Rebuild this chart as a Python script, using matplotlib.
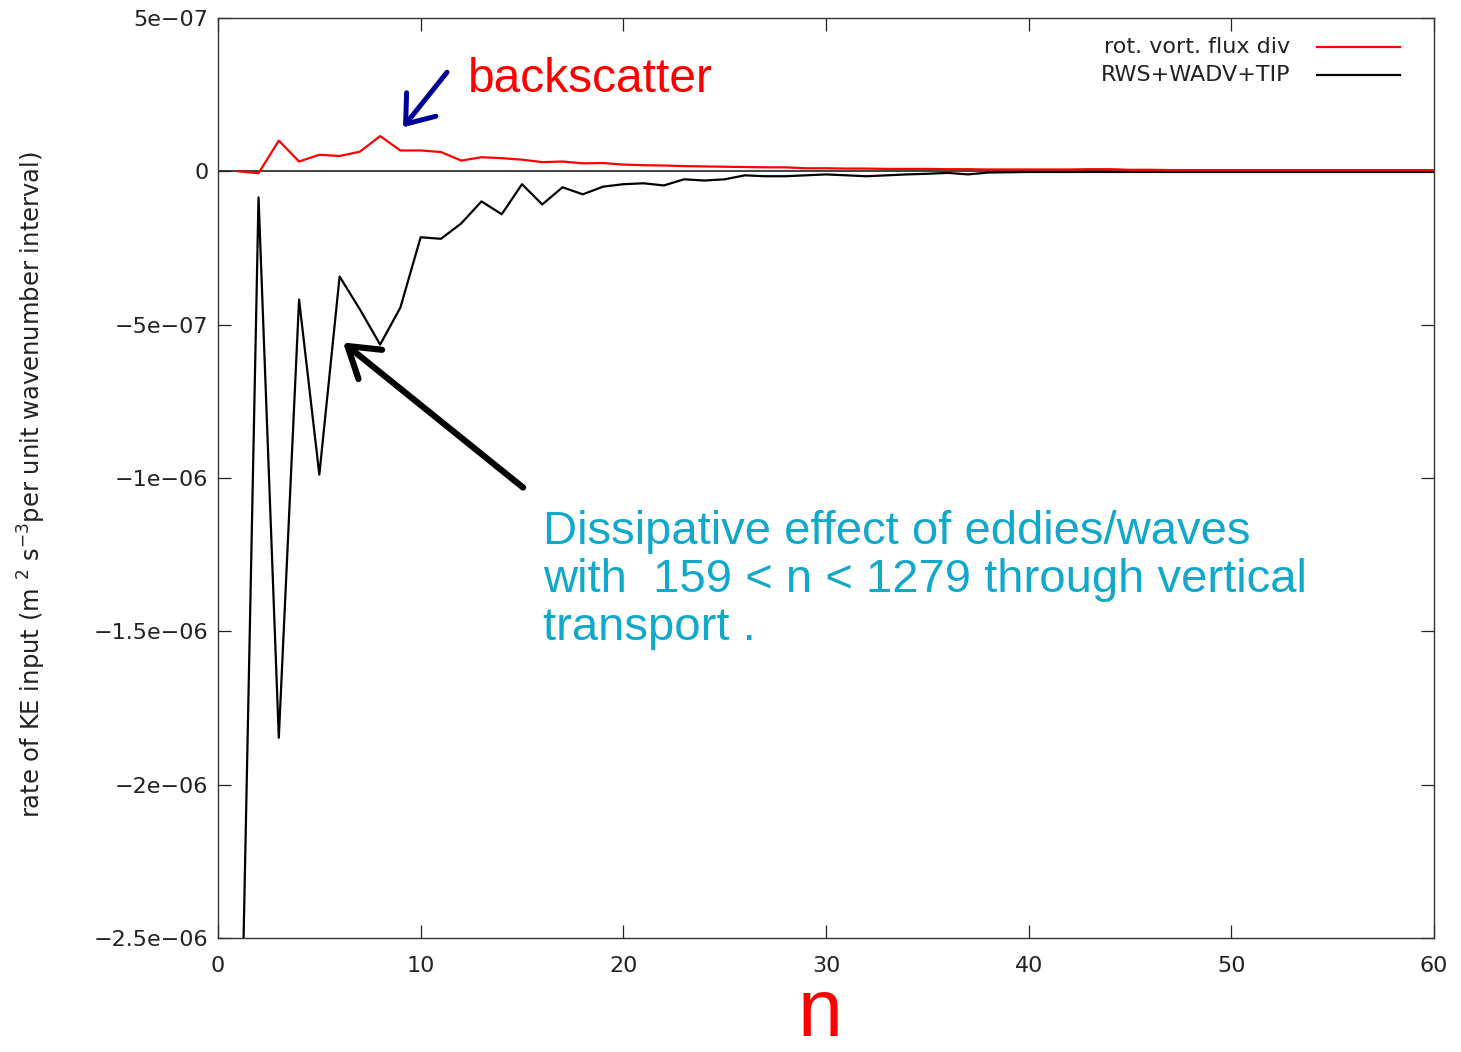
import matplotlib
matplotlib.use("Agg")
import matplotlib.pyplot as plt
import numpy as np

plt.rcParams['font.family'] = ['Liberation Sans', 'DejaVu Sans']

# wavenumber n
n = np.arange(0, 61)

nan = float("nan")
# values in units of 1e-7 m^2 s^-3 per unit wavenumber interval
rot_vort_flux_div = [
    nan, 0.0, -0.06, 1.0, 0.32, 0.54, 0.5, 0.64, 1.15, 0.68,
    0.68, 0.63, 0.35, 0.46, 0.43, 0.38, 0.3, 0.32, 0.26, 0.27,
    0.22, 0.2, 0.19, 0.17, 0.16, 0.15, 0.14, 0.13, 0.13, 0.1,
    0.1, 0.09, 0.09, 0.08, 0.08, 0.08, 0.07, 0.07, 0.06, 0.06,
    0.06, 0.06, 0.06, 0.07, 0.07, 0.05, 0.05, 0.04, 0.04, 0.04,
    0.04, 0.04, 0.04, 0.04, 0.04, 0.04, 0.04, 0.04, 0.04, 0.04,
    0.04,
]
rws_wadv_tip = [
    nan, -33.6, -0.85, -18.47, -4.18, -9.89, -3.43, -4.5, -5.65, -4.44,
    -2.15, -2.2, -1.7, -0.98, -1.4, -0.42, -1.08, -0.52, -0.75, -0.5,
    -0.42, -0.39, -0.46, -0.26, -0.3, -0.26, -0.13, -0.16, -0.16, -0.13,
    -0.1, -0.13, -0.16, -0.13, -0.1, -0.08, -0.05, -0.1, -0.04, -0.03,
    -0.02, -0.02, -0.02, -0.02, -0.02, -0.02, -0.02, -0.02, -0.02, -0.02,
    -0.02, -0.02, -0.02, -0.02, -0.02, -0.02, -0.02, -0.02, -0.02, -0.02,
    -0.02,
]
series_labels = ["rot. vort. flux div", "RWS+WADV+TIP"]
series_colors = ["#ff0000", "#000000"]

x_ticks = [0, 10, 20, 30, 40, 50, 60]
y_ticks = [5e-7, 0, -5e-7, -1e-6, -1.5e-6, -2e-6, -2.5e-6]
y_tick_labels = ["5e\u221207", "0", "\u22125e\u221207", "\u22121e\u221206",
                 "\u22121.5e\u221206", "\u22122e\u221206", "\u22122.5e\u221206"]

scale = 1e-7
W, H = 1461, 1052
fig = plt.figure(figsize=(W / 100, H / 100), dpi=100)
L, R, T, B = 218, 1434, 18, 938
ax = fig.add_axes([L / W, 1 - B / H, (R - L) / W, (B - T) / H])

ax.axhline(0, color="#333333", lw=1.3, zorder=1)
l1, = ax.plot(n, np.array(rot_vort_flux_div) * scale, color=series_colors[0], lw=1.6, zorder=3)
l2, = ax.plot(n, np.array(rws_wadv_tip) * scale, color=series_colors[1], lw=1.6, zorder=2)

ax.set_xlim(0, 60)
ax.set_ylim(-2.5e-6, 5e-7)
ax.set_xticks(x_ticks)
ax.set_xticklabels([str(t) for t in x_ticks])
ax.set_yticks(y_ticks)
ax.set_yticklabels(y_tick_labels)
ax.tick_params(direction="in", length=9.5, width=0.9, top=True, right=True,
               labelsize=16, colors="#222222")
for lab in ax.get_xticklabels() + ax.get_yticklabels():
    lab.set_family("DejaVu Sans")
ax.tick_params(axis="x", pad=13)
ax.tick_params(axis="y", pad=7)
for s in ax.spines.values():
    s.set_color("#333333")
    s.set_linewidth(1.0)

# manual legend (right-aligned text, sample line to the right)
def px2ax(px, py):
    return (px - L) / (R - L), 1 - (py - T) / (B - T)

for i, (line, lab) in enumerate(zip([l1, l2], series_labels)):
    py = 47 + 28 * i
    tx, ty = px2ax(1290, py)
    ax.text(tx, ty, lab, transform=ax.transAxes, ha="right", va="center",
            fontsize=16, color="#222222", family="DejaVu Sans")
    xa, ya = px2ax(1317, py)
    xb, _ = px2ax(1400, py)
    ax.plot([xa, xb], [ya, ya], transform=ax.transAxes, color=line.get_color(), lw=1.6,
            clip_on=False)

ax.set_ylabel("rate of KE input (m $^2$ s$^{-3}$per unit wavenumber interval)",
              fontsize=17.5, color="#222222", family="DejaVu Sans")
ax.yaxis.set_label_coords((48 - L) / (R - L), 1 - (485 - T) / (B - T))

# annotations
ax.annotate("", xy=(6.17, -5.58e-7), xytext=(15.05, -1.031e-6),
            arrowprops=dict(arrowstyle="->,head_length=0.7,head_width=0.45",
                            lw=4.5, color="black", mutation_scale=30, shrinkA=0, shrinkB=0))
ax.annotate("", xy=(9.13, 1.436e-7), xytext=(11.30, 3.23e-7),
            arrowprops=dict(arrowstyle="->,head_length=0.6,head_width=0.45",
                            lw=3.6, color="#000099", mutation_scale=30, shrinkA=0, shrinkB=0))

fig.text(468 / W, 1 - 92 / H, "backscatter", color="#ff0000", fontsize=34.5,
         ha="left", va="baseline")

cyan = "#12a8cc"
for i, line_txt in enumerate(["Dissipative effect of eddies/waves",
                              "with  159 < n < 1279 through vertical",
                              "transport ."]):
    fig.text(543 / W, 1 - (544 + 48 * i) / H, line_txt, color=cyan, fontsize=34,
             ha="left", va="baseline")

fig.text(820 / W, 1 - 1036 / H, "n", color="#ff0000", fontsize=58,
         ha="center", va="baseline")

fig.savefig("out.png", dpi=100)
